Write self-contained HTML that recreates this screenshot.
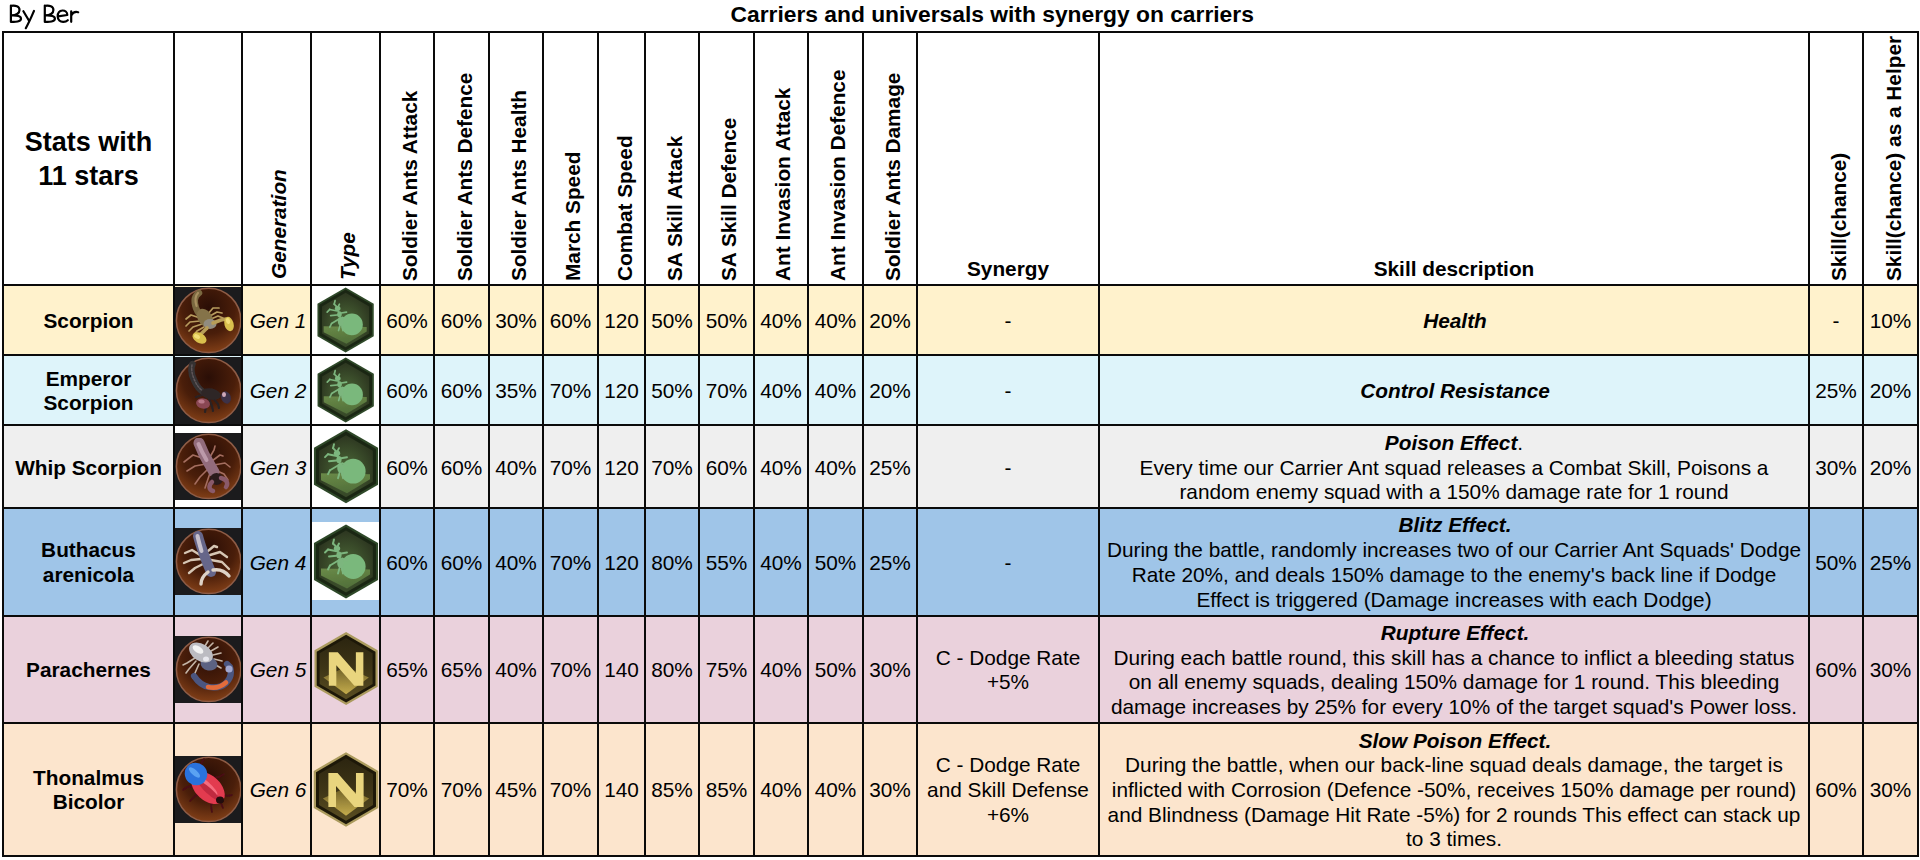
<!DOCTYPE html>
<html><head><meta charset="utf-8"><title>Carriers and universals with synergy on carriers</title>
<style>html,body{margin:0;padding:0;background:#fff;width:1920px;height:860px;overflow:hidden}svg{display:block}text{font-family:"Liberation Sans",sans-serif}</style>
</head><body><svg width="1920" height="860" viewBox="0 0 1920 860">
<defs>
 <radialGradient id="med" cx="50%" cy="30%" r="75%">
  <stop offset="0" stop-color="#2a0e06"/>
  <stop offset="0.55" stop-color="#4a1e0a"/>
  <stop offset="1" stop-color="#8a4419"/>
 </radialGradient>
 <radialGradient id="ghex" cx="50%" cy="58%" r="62%">
  <stop offset="0" stop-color="#4e6c3a"/>
  <stop offset="0.55" stop-color="#3a4c2a"/>
  <stop offset="1" stop-color="#2a321e"/>
 </radialGradient>
 <linearGradient id="gground" x1="0" y1="0" x2="0.3" y2="1">
  <stop offset="0" stop-color="#6a8a48"/>
  <stop offset="1" stop-color="#52703a"/>
 </linearGradient>
 <linearGradient id="nchev" x1="0" y1="0" x2="0" y2="1">
  <stop offset="0" stop-color="#6a5c24"/>
  <stop offset="0.5" stop-color="#9a863a"/>
  <stop offset="1" stop-color="#c4ac4c"/>
 </linearGradient>
 <linearGradient id="nhex" x1="0" y1="0" x2="0" y2="1">
  <stop offset="0" stop-color="#2c2510"/>
  <stop offset="0.5" stop-color="#3e3516"/>
  <stop offset="1" stop-color="#5a4e22"/>
 </linearGradient>
 <filter id="soft" x="-10%" y="-10%" width="120%" height="120%"><feGaussianBlur stdDeviation="0.6"/></filter>
</defs><rect x="3" y="285" width="1916" height="70" fill="#FFF2CC"/><rect x="3" y="355" width="1916" height="70" fill="#DEF4FA"/><rect x="3" y="425" width="1916" height="83" fill="#EFEFEF"/><rect x="3" y="508" width="1916" height="108" fill="#9FC5E8"/><rect x="3" y="616" width="1916" height="107" fill="#EAD1DC"/><rect x="3" y="723" width="1916" height="133" fill="#FCE5CD"/><rect x="174" y="425" width="68" height="83" fill="#ffffff"/><rect x="311" y="285" width="69" height="70" fill="#ffffff"/><rect x="311" y="355" width="69" height="70" fill="#ffffff"/><rect x="311" y="425" width="69" height="83" fill="#ffffff"/><rect x="312" y="522" width="67" height="78" fill="#ffffff"/><g transform="translate(175,287)"><rect x="0" y="0" width="67" height="67" fill="#1b1b1d"/><circle cx="33.6" cy="33.4" r="32.2" fill="url(#med)" stroke="#8e5c46" stroke-width="1.5"/><g filter="url(#soft)"><path d="M25.0,31.0 L16.0,28.0 L11.0,32.0" stroke="#b89c5e" stroke-width="1.7" fill="none" stroke-linecap="round" stroke-linejoin="round"/><path d="M25.0,34.0 L15.0,35.0 L11.0,39.0" stroke="#b89c5e" stroke-width="1.7" fill="none" stroke-linecap="round" stroke-linejoin="round"/><path d="M27.0,37.0 L18.0,40.0 L14.0,44.0" stroke="#b89c5e" stroke-width="1.7" fill="none" stroke-linecap="round" stroke-linejoin="round"/><path d="M29.0,40.0 L22.0,44.0 L19.0,48.0" stroke="#b89c5e" stroke-width="1.7" fill="none" stroke-linecap="round" stroke-linejoin="round"/><path d="M33.0,27.0 L38.0,21.0 L44.0,21.0" stroke="#b89c5e" stroke-width="1.7" fill="none" stroke-linecap="round" stroke-linejoin="round"/><path d="M35.0,29.0 L42.0,25.0 L47.0,26.0" stroke="#b89c5e" stroke-width="1.7" fill="none" stroke-linecap="round" stroke-linejoin="round"/><path d="M36.0,32.0 L43.0,29.0 L48.0,31.0" stroke="#b89c5e" stroke-width="1.7" fill="none" stroke-linecap="round" stroke-linejoin="round"/><path d="M24,6 C19,9 19,15 21,21 C23,27 27,31 33,35" stroke="#7a6840" stroke-width="6.5" fill="none" stroke-linecap="round" stroke-linejoin="round"/><path d="M23,6 C20,9 20,14 21.5,19" stroke="#a89060" stroke-width="2.2" fill="none" stroke-linecap="round" stroke-linejoin="round"/><ellipse cx="30" cy="31" rx="7" ry="10" fill="#857348" transform="rotate(-35 30 31)"/><ellipse cx="35" cy="37" rx="6.5" ry="5" fill="#918c80"/><path d="M38,36 L46,33 L51,32" stroke="#b89e58" stroke-width="3.6" fill="none" stroke-linecap="round" stroke-linejoin="round"/><path d="M32,41 L28,45 L26,47" stroke="#b89e58" stroke-width="3.6" fill="none" stroke-linecap="round" stroke-linejoin="round"/><ellipse cx="54" cy="37" rx="4.6" ry="7.3" fill="#d9c04e" transform="rotate(-15 54 37)"/><ellipse cx="24.5" cy="51" rx="7.6" ry="5" fill="#d9c04e" transform="rotate(30 24.5 51)"/><ellipse cx="22" cy="49.5" rx="3.2" ry="2" fill="#f2de78" transform="rotate(30 22 49.5)"/><ellipse cx="53" cy="34" rx="2" ry="3" fill="#f2de78" transform="rotate(-15 53 34)"/></g></g><g transform="translate(175,357)"><rect x="0" y="0" width="67" height="67" fill="#1b1b1d"/><circle cx="33.6" cy="33.4" r="32.2" fill="url(#med)" stroke="#8e5c46" stroke-width="1.5"/><g filter="url(#soft)"><path d="M30.0,42.0 L31.0,50.0 L30.0,55.0" stroke="#2a2224" stroke-width="2.2" fill="none" stroke-linecap="round" stroke-linejoin="round"/><path d="M34.0,42.0 L37.0,49.0 L38.0,54.0" stroke="#2a2224" stroke-width="2.2" fill="none" stroke-linecap="round" stroke-linejoin="round"/><path d="M38.0,41.0 L43.0,47.0 L44.0,51.0" stroke="#2a2224" stroke-width="2.2" fill="none" stroke-linecap="round" stroke-linejoin="round"/><path d="M27.0,38.0 L21.0,40.0" stroke="#2a2224" stroke-width="2.2" fill="none" stroke-linecap="round" stroke-linejoin="round"/><path d="M17.5,7 C15.5,12 16.5,18 19,23 C21.5,29 24.5,33 29,35.5 L40,38" stroke="#363032" stroke-width="6.5" fill="none" stroke-linecap="round" stroke-linejoin="round"/><path d="M17,8 C16,13 17.5,19 20,24 C22,29 25,32 28,34" stroke="#5e5658" stroke-width="1.5" fill="none" stroke-linecap="round" stroke-linejoin="round" stroke-dasharray="2 1.6"/><ellipse cx="36" cy="37" rx="10" ry="5.5" fill="#2e2628" transform="rotate(12 36 37)"/><ellipse cx="28" cy="46.5" rx="7" ry="5.2" fill="#8a4652" transform="rotate(10 28 46.5)"/><ellipse cx="26.5" cy="44.5" rx="3.2" ry="2" fill="#b87888" transform="rotate(10 26.5 44.5)"/><ellipse cx="51" cy="40.5" rx="4.8" ry="6.3" fill="#3c3046" transform="rotate(-20 51 40.5)"/><ellipse cx="49" cy="37.5" rx="2" ry="2.6" fill="#d0a8b8"/></g></g><g transform="translate(175,433)"><rect x="0" y="0" width="67" height="67" fill="#1b1b1d"/><circle cx="33.6" cy="33.4" r="32.2" fill="url(#med)" stroke="#8e5c46" stroke-width="1.5"/><g filter="url(#soft)"><path d="M30.0,26.0 L18.0,22.0 L9.0,29.0" stroke="#a46d5e" stroke-width="1.6" fill="none" stroke-linecap="round" stroke-linejoin="round"/><path d="M31.0,31.0 L20.0,33.0 L12.0,38.0" stroke="#a46d5e" stroke-width="1.6" fill="none" stroke-linecap="round" stroke-linejoin="round"/><path d="M33.0,36.0 L25.0,44.0 L20.0,51.0" stroke="#a46d5e" stroke-width="1.6" fill="none" stroke-linecap="round" stroke-linejoin="round"/><path d="M35.0,40.0 L32.0,49.0 L30.0,55.0" stroke="#a46d5e" stroke-width="1.6" fill="none" stroke-linecap="round" stroke-linejoin="round"/><path d="M35.0,24.0 L39.0,17.0 L40.0,13.0" stroke="#a46d5e" stroke-width="1.6" fill="none" stroke-linecap="round" stroke-linejoin="round"/><path d="M37.0,28.0 L45.0,22.0 L48.0,23.0" stroke="#a46d5e" stroke-width="1.6" fill="none" stroke-linecap="round" stroke-linejoin="round"/><path d="M39.0,32.0 L50.0,30.0 L55.0,34.0" stroke="#a46d5e" stroke-width="1.6" fill="none" stroke-linecap="round" stroke-linejoin="round"/><path d="M40.0,37.0 L49.0,41.0 L53.0,47.0" stroke="#a46d5e" stroke-width="1.6" fill="none" stroke-linecap="round" stroke-linejoin="round"/><path d="M24,10 C27,18 31,26 35.5,33 L39,39" stroke="#926c7c" stroke-width="11" fill="none" stroke-linecap="round" stroke-linejoin="round"/><path d="M23.5,11 C26,17 28.5,22 31.5,27" stroke="#bc9aaa" stroke-width="4" fill="none" stroke-linecap="round" stroke-linejoin="round"/><ellipse cx="41.5" cy="46" rx="6.5" ry="6" fill="#2a1a1c"/><path d="M37,49 C33,53 34,57 38,58" stroke="#8a5a6a" stroke-width="4.5" fill="none" stroke-linecap="round" stroke-linejoin="round"/><path d="M46,45 C51,46 54,50 51,54" stroke="#8a5a6a" stroke-width="4.5" fill="none" stroke-linecap="round" stroke-linejoin="round"/></g></g><g transform="translate(175,528)"><rect x="0" y="0" width="67" height="67" fill="#1b1b1d"/><circle cx="33.6" cy="33.4" r="32.2" fill="url(#med)" stroke="#8e5c46" stroke-width="1.5"/><g filter="url(#soft)"><path d="M25.0,27.0 L17.0,22.0 L10.0,25.0" stroke="#d6c6b4" stroke-width="2.4" fill="none" stroke-linecap="round" stroke-linejoin="round"/><path d="M26.0,31.0 L16.0,32.0 L9.0,35.0" stroke="#d6c6b4" stroke-width="2.4" fill="none" stroke-linecap="round" stroke-linejoin="round"/><path d="M28.0,36.0 L20.0,40.0 L14.0,45.0" stroke="#d6c6b4" stroke-width="2.4" fill="none" stroke-linecap="round" stroke-linejoin="round"/><path d="M33.0,23.0 L39.0,18.0 L42.0,19.0" stroke="#d6c6b4" stroke-width="2.4" fill="none" stroke-linecap="round" stroke-linejoin="round"/><path d="M35.0,27.0 L45.0,24.0 L52.0,29.0" stroke="#d6c6b4" stroke-width="2.4" fill="none" stroke-linecap="round" stroke-linejoin="round"/><path d="M36.0,32.0 L47.0,34.0 L54.0,41.0" stroke="#d6c6b4" stroke-width="2.4" fill="none" stroke-linecap="round" stroke-linejoin="round"/><path d="M23,8 C25,16 28,24 31,32 L36,44" stroke="#66668a" stroke-width="10" fill="none" stroke-linecap="round" stroke-linejoin="round"/><path d="M22.5,8 C23.5,13 25,18 26.5,23" stroke="#c6c0cc" stroke-width="4" fill="none" stroke-linecap="round" stroke-linejoin="round"/><path d="M33,44 C29,47 26,51 26,56" stroke="#ded2c6" stroke-width="3.4" fill="none" stroke-linecap="round" stroke-linejoin="round"/><path d="M38,42 C44,41 50,43 54,48" stroke="#ded2c6" stroke-width="3.4" fill="none" stroke-linecap="round" stroke-linejoin="round"/></g></g><g transform="translate(175,636)"><rect x="0" y="0" width="67" height="67" fill="#1b1b1d"/><circle cx="33.6" cy="33.4" r="32.2" fill="url(#med)" stroke="#8e5c46" stroke-width="1.5"/><g filter="url(#soft)"><path d="M20.0,22.0 L12.0,27.0 L8.0,29.0" stroke="#c4b4a6" stroke-width="1.6" fill="none" stroke-linecap="round" stroke-linejoin="round"/><path d="M21.0,25.0 L14.0,33.0 L11.0,37.0" stroke="#c4b4a6" stroke-width="1.6" fill="none" stroke-linecap="round" stroke-linejoin="round"/><path d="M24.0,28.0 L20.0,37.0 L18.0,42.0" stroke="#c4b4a6" stroke-width="1.6" fill="none" stroke-linecap="round" stroke-linejoin="round"/><path d="M30.0,10.0 L33.0,5.0" stroke="#c4b4a6" stroke-width="1.6" fill="none" stroke-linecap="round" stroke-linejoin="round"/><path d="M33.0,12.0 L38.0,7.0" stroke="#c4b4a6" stroke-width="1.6" fill="none" stroke-linecap="round" stroke-linejoin="round"/><path d="M36.0,15.0 L43.0,11.0" stroke="#c4b4a6" stroke-width="1.6" fill="none" stroke-linecap="round" stroke-linejoin="round"/><path d="M38.0,19.0 L46.0,17.0" stroke="#c4b4a6" stroke-width="1.6" fill="none" stroke-linecap="round" stroke-linejoin="round"/><path d="M39.0,23.0 L47.0,25.0" stroke="#c4b4a6" stroke-width="1.6" fill="none" stroke-linecap="round" stroke-linejoin="round"/><path d="M39.0,28.0 L46.0,32.0" stroke="#c4b4a6" stroke-width="1.6" fill="none" stroke-linecap="round" stroke-linejoin="round"/><path d="M19,40 C23,46 28,50 34,51 C40,52 47,51 51,47 C55,43 57,37 55,31 L52,28" stroke="#4c5680" stroke-width="6.2" fill="none" stroke-linecap="round" stroke-linejoin="round"/><path d="M33,51 C39,52.5 46,51 51,46.5" stroke="#e36c3a" stroke-width="4.6" fill="none" stroke-linecap="round" stroke-linejoin="round"/><ellipse cx="34" cy="28" rx="8.5" ry="6.5" fill="#5c6282" transform="rotate(10 34 28)"/><ellipse cx="26" cy="16.5" rx="13" ry="8.5" fill="#bcbcc2" transform="rotate(32 26 16.5)"/><ellipse cx="23" cy="13.5" rx="6" ry="3.2" fill="#f2f2f2" transform="rotate(32 23 13.5)"/><ellipse cx="31" cy="23" rx="3" ry="2.5" fill="#e8e8ee"/><ellipse cx="54" cy="33" rx="3.6" ry="3.6" fill="#a2a8d0"/></g></g><g transform="translate(175,756)"><rect x="0" y="0" width="67" height="67" fill="#1b1b1d"/><circle cx="33.6" cy="33.4" r="32.2" fill="url(#med)" stroke="#8e5c46" stroke-width="1.5"/><g filter="url(#soft)"><path d="M38.0,42.0 L36.0,50.0 L37.0,56.0" stroke="#4a0c14" stroke-width="1.8" fill="none" stroke-linecap="round" stroke-linejoin="round"/><path d="M42.0,40.0 L46.0,47.0 L48.0,52.0" stroke="#4a0c14" stroke-width="1.8" fill="none" stroke-linecap="round" stroke-linejoin="round"/><path d="M44.0,36.0 L52.0,40.0 L57.0,39.0" stroke="#4a0c14" stroke-width="1.8" fill="none" stroke-linecap="round" stroke-linejoin="round"/><path d="M26.0,36.0 L19.0,41.0 L15.0,45.0" stroke="#4a0c14" stroke-width="1.8" fill="none" stroke-linecap="round" stroke-linejoin="round"/><path d="M20.0,30.0 L12.0,31.0 L8.0,34.0" stroke="#4a0c14" stroke-width="1.8" fill="none" stroke-linecap="round" stroke-linejoin="round"/><path d="M36.0,22.0 L44.0,21.0 L49.0,18.0" stroke="#4a0c14" stroke-width="1.8" fill="none" stroke-linecap="round" stroke-linejoin="round"/><path d="M24.0,12.0 L27.0,6.0 L29.0,3.0" stroke="#4a0c14" stroke-width="1.8" fill="none" stroke-linecap="round" stroke-linejoin="round"/><path d="M15.0,18.0 L10.0,14.0" stroke="#4a0c14" stroke-width="1.8" fill="none" stroke-linecap="round" stroke-linejoin="round"/><ellipse cx="33" cy="32" rx="19.5" ry="12.5" fill="#e23a4f" transform="rotate(42 33 32)"/><ellipse cx="31" cy="29" rx="15" ry="3.8" fill="#f66c7e" transform="rotate(42 31 29)"/><ellipse cx="34" cy="35" rx="14" ry="3" fill="#c02a40" transform="rotate(42 34 35)"/><ellipse cx="21" cy="18" rx="11.5" ry="11" fill="#2a72dc" transform="rotate(42 21 18)"/><ellipse cx="19.5" cy="16.5" rx="7" ry="2.8" fill="#5aa2f2" transform="rotate(42 19.5 16.5)"/><ellipse cx="45" cy="44" rx="4" ry="3.5" fill="#200808"/></g></g><polygon points="345.60,287.50 373.75,303.75 373.75,336.25 345.60,352.50 317.45,336.25 317.45,303.75" fill="#2e4828"/><polygon points="345.60,289.61 371.92,304.80 371.92,335.20 345.60,350.39 319.28,335.20 319.28,304.80" fill="#1a2613"/><polygon points="345.60,292.77 369.18,306.39 369.18,333.61 345.60,347.23 322.02,333.61 322.02,306.39" fill="url(#ghex)"/><polygon points="323.64,326.15 366.68,327.03 366.68,331.42 346.48,343.72 323.64,332.30" fill="url(#gground)" filter="url(#soft)"/><g filter="url(#soft)"><circle cx="351.92" cy="324.39" r="10.89" fill="#7ab87c"/><line x1="337.69" y1="307.70" x2="334.18" y2="304.19" stroke="#7cb67e" stroke-width="1.67" stroke-linecap="round"/><line x1="334.18" y1="304.19" x2="335.06" y2="300.68" stroke="#7cb67e" stroke-width="1.67" stroke-linecap="round"/><line x1="337.69" y1="307.70" x2="339.45" y2="304.19" stroke="#7cb67e" stroke-width="1.67" stroke-linecap="round"/><line x1="338.57" y1="311.22" x2="329.79" y2="309.46" stroke="#7cb67e" stroke-width="1.67" stroke-linecap="round"/><line x1="329.79" y1="309.46" x2="327.15" y2="312.09" stroke="#7cb67e" stroke-width="1.67" stroke-linecap="round"/><line x1="339.45" y1="314.73" x2="330.67" y2="315.61" stroke="#7cb67e" stroke-width="1.67" stroke-linecap="round"/><line x1="340.33" y1="318.24" x2="331.55" y2="323.51" stroke="#7cb67e" stroke-width="1.67" stroke-linecap="round"/><line x1="331.55" y1="323.51" x2="329.79" y2="327.03" stroke="#7cb67e" stroke-width="1.67" stroke-linecap="round"/><line x1="341.21" y1="312.97" x2="346.48" y2="312.09" stroke="#7cb67e" stroke-width="1.67" stroke-linecap="round"/><line x1="342.09" y1="317.36" x2="346.48" y2="319.12" stroke="#7cb67e" stroke-width="1.67" stroke-linecap="round"/><line x1="340.33" y1="324.39" x2="338.57" y2="330.54" stroke="#7cb67e" stroke-width="1.67" stroke-linecap="round"/><line x1="342.09" y1="325.27" x2="342.96" y2="330.54" stroke="#7cb67e" stroke-width="1.67" stroke-linecap="round"/><ellipse cx="337.69" cy="308.58" rx="2.81" ry="2.46" fill="#7cb67e"/><ellipse cx="339.45" cy="314.29" rx="2.28" ry="3.16" fill="#7cb67e"/><ellipse cx="340.68" cy="321.32" rx="2.81" ry="4.39" fill="#7cb67e"/></g><polygon points="345.70,357.50 373.85,373.75 373.85,406.25 345.70,422.50 317.55,406.25 317.55,373.75" fill="#2e4828"/><polygon points="345.70,359.61 372.02,374.80 372.02,405.20 345.70,420.39 319.38,405.20 319.38,374.80" fill="#1a2613"/><polygon points="345.70,362.77 369.28,376.39 369.28,403.61 345.70,417.23 322.12,403.61 322.12,376.39" fill="url(#ghex)"/><polygon points="323.74,396.15 366.78,397.03 366.78,401.42 346.58,413.72 323.74,402.30" fill="url(#gground)" filter="url(#soft)"/><g filter="url(#soft)"><circle cx="352.02" cy="394.39" r="10.89" fill="#7ab87c"/><line x1="337.79" y1="377.70" x2="334.28" y2="374.19" stroke="#7cb67e" stroke-width="1.67" stroke-linecap="round"/><line x1="334.28" y1="374.19" x2="335.16" y2="370.68" stroke="#7cb67e" stroke-width="1.67" stroke-linecap="round"/><line x1="337.79" y1="377.70" x2="339.55" y2="374.19" stroke="#7cb67e" stroke-width="1.67" stroke-linecap="round"/><line x1="338.67" y1="381.22" x2="329.89" y2="379.46" stroke="#7cb67e" stroke-width="1.67" stroke-linecap="round"/><line x1="329.89" y1="379.46" x2="327.25" y2="382.09" stroke="#7cb67e" stroke-width="1.67" stroke-linecap="round"/><line x1="339.55" y1="384.73" x2="330.77" y2="385.61" stroke="#7cb67e" stroke-width="1.67" stroke-linecap="round"/><line x1="340.43" y1="388.24" x2="331.65" y2="393.51" stroke="#7cb67e" stroke-width="1.67" stroke-linecap="round"/><line x1="331.65" y1="393.51" x2="329.89" y2="397.03" stroke="#7cb67e" stroke-width="1.67" stroke-linecap="round"/><line x1="341.31" y1="382.97" x2="346.58" y2="382.09" stroke="#7cb67e" stroke-width="1.67" stroke-linecap="round"/><line x1="342.19" y1="387.36" x2="346.58" y2="389.12" stroke="#7cb67e" stroke-width="1.67" stroke-linecap="round"/><line x1="340.43" y1="394.39" x2="338.67" y2="400.54" stroke="#7cb67e" stroke-width="1.67" stroke-linecap="round"/><line x1="342.19" y1="395.27" x2="343.06" y2="400.54" stroke="#7cb67e" stroke-width="1.67" stroke-linecap="round"/><ellipse cx="337.79" cy="378.58" rx="2.81" ry="2.46" fill="#7cb67e"/><ellipse cx="339.55" cy="384.29" rx="2.28" ry="3.16" fill="#7cb67e"/><ellipse cx="340.78" cy="391.32" rx="2.81" ry="4.39" fill="#7cb67e"/></g><polygon points="346.00,429.20 378.04,447.70 378.04,484.70 346.00,503.20 313.96,484.70 313.96,447.70" fill="#2e4828"/><polygon points="346.00,431.60 375.96,448.90 375.96,483.50 346.00,500.80 316.04,483.50 316.04,448.90" fill="#1a2613"/><polygon points="346.00,435.20 372.85,450.70 372.85,481.70 346.00,497.20 319.15,481.70 319.15,450.70" fill="url(#ghex)"/><polygon points="321.00,473.20 370.00,474.20 370.00,479.20 347.00,493.20 321.00,480.20" fill="url(#gground)" filter="url(#soft)"/><g filter="url(#soft)"><circle cx="353.20" cy="471.20" r="12.40" fill="#7ab87c"/><line x1="337.00" y1="452.20" x2="333.00" y2="448.20" stroke="#7cb67e" stroke-width="1.90" stroke-linecap="round"/><line x1="333.00" y1="448.20" x2="334.00" y2="444.20" stroke="#7cb67e" stroke-width="1.90" stroke-linecap="round"/><line x1="337.00" y1="452.20" x2="339.00" y2="448.20" stroke="#7cb67e" stroke-width="1.90" stroke-linecap="round"/><line x1="338.00" y1="456.20" x2="328.00" y2="454.20" stroke="#7cb67e" stroke-width="1.90" stroke-linecap="round"/><line x1="328.00" y1="454.20" x2="325.00" y2="457.20" stroke="#7cb67e" stroke-width="1.90" stroke-linecap="round"/><line x1="339.00" y1="460.20" x2="329.00" y2="461.20" stroke="#7cb67e" stroke-width="1.90" stroke-linecap="round"/><line x1="340.00" y1="464.20" x2="330.00" y2="470.20" stroke="#7cb67e" stroke-width="1.90" stroke-linecap="round"/><line x1="330.00" y1="470.20" x2="328.00" y2="474.20" stroke="#7cb67e" stroke-width="1.90" stroke-linecap="round"/><line x1="341.00" y1="458.20" x2="347.00" y2="457.20" stroke="#7cb67e" stroke-width="1.90" stroke-linecap="round"/><line x1="342.00" y1="463.20" x2="347.00" y2="465.20" stroke="#7cb67e" stroke-width="1.90" stroke-linecap="round"/><line x1="340.00" y1="471.20" x2="338.00" y2="478.20" stroke="#7cb67e" stroke-width="1.90" stroke-linecap="round"/><line x1="342.00" y1="472.20" x2="343.00" y2="478.20" stroke="#7cb67e" stroke-width="1.90" stroke-linecap="round"/><ellipse cx="337.00" cy="453.20" rx="3.20" ry="2.80" fill="#7cb67e"/><ellipse cx="339.00" cy="459.70" rx="2.60" ry="3.60" fill="#7cb67e"/><ellipse cx="340.40" cy="467.70" rx="3.20" ry="5.00" fill="#7cb67e"/></g><polygon points="346.00,524.50 378.04,543.00 378.04,580.00 346.00,598.50 313.96,580.00 313.96,543.00" fill="#2e4828"/><polygon points="346.00,526.90 375.96,544.20 375.96,578.80 346.00,596.10 316.04,578.80 316.04,544.20" fill="#1a2613"/><polygon points="346.00,530.50 372.85,546.00 372.85,577.00 346.00,592.50 319.15,577.00 319.15,546.00" fill="url(#ghex)"/><polygon points="321.00,568.50 370.00,569.50 370.00,574.50 347.00,588.50 321.00,575.50" fill="url(#gground)" filter="url(#soft)"/><g filter="url(#soft)"><circle cx="353.20" cy="566.50" r="12.40" fill="#7ab87c"/><line x1="337.00" y1="547.50" x2="333.00" y2="543.50" stroke="#7cb67e" stroke-width="1.90" stroke-linecap="round"/><line x1="333.00" y1="543.50" x2="334.00" y2="539.50" stroke="#7cb67e" stroke-width="1.90" stroke-linecap="round"/><line x1="337.00" y1="547.50" x2="339.00" y2="543.50" stroke="#7cb67e" stroke-width="1.90" stroke-linecap="round"/><line x1="338.00" y1="551.50" x2="328.00" y2="549.50" stroke="#7cb67e" stroke-width="1.90" stroke-linecap="round"/><line x1="328.00" y1="549.50" x2="325.00" y2="552.50" stroke="#7cb67e" stroke-width="1.90" stroke-linecap="round"/><line x1="339.00" y1="555.50" x2="329.00" y2="556.50" stroke="#7cb67e" stroke-width="1.90" stroke-linecap="round"/><line x1="340.00" y1="559.50" x2="330.00" y2="565.50" stroke="#7cb67e" stroke-width="1.90" stroke-linecap="round"/><line x1="330.00" y1="565.50" x2="328.00" y2="569.50" stroke="#7cb67e" stroke-width="1.90" stroke-linecap="round"/><line x1="341.00" y1="553.50" x2="347.00" y2="552.50" stroke="#7cb67e" stroke-width="1.90" stroke-linecap="round"/><line x1="342.00" y1="558.50" x2="347.00" y2="560.50" stroke="#7cb67e" stroke-width="1.90" stroke-linecap="round"/><line x1="340.00" y1="566.50" x2="338.00" y2="573.50" stroke="#7cb67e" stroke-width="1.90" stroke-linecap="round"/><line x1="342.00" y1="567.50" x2="343.00" y2="573.50" stroke="#7cb67e" stroke-width="1.90" stroke-linecap="round"/><ellipse cx="337.00" cy="548.50" rx="3.20" ry="2.80" fill="#7cb67e"/><ellipse cx="339.00" cy="555.00" rx="2.60" ry="3.60" fill="#7cb67e"/><ellipse cx="340.40" cy="563.00" rx="3.20" ry="5.00" fill="#7cb67e"/></g><polygon points="346.10,632.10 377.71,650.35 377.71,686.85 346.10,705.10 314.49,686.85 314.49,650.35" fill="#ab9b5e"/><polygon points="346.10,634.66 375.49,651.63 375.49,685.57 346.10,702.54 316.71,685.57 316.71,651.63" fill="#1d1808"/><polygon points="346.10,638.02 372.58,653.31 372.58,683.89 346.10,699.18 319.62,683.89 319.62,653.31" fill="url(#nhex)"/><polygon points="323.41,677.48 346.10,666.63 368.79,677.48 346.10,694.25" fill="url(#nchev)" filter="url(#soft)"/><path d="M328.84,685.86 L328.84,652.32 L337.81,652.32 L355.87,673.04 L355.87,652.32 L363.36,652.32 L363.36,685.86 L354.39,685.86 L336.33,665.15 L336.33,685.86 Z" fill="#e9d57e"/><polygon points="346.00,752.25 378.26,770.88 378.26,808.12 346.00,826.75 313.74,808.12 313.74,770.88" fill="#ab9b5e"/><polygon points="346.00,754.87 375.99,772.18 375.99,806.82 346.00,824.13 316.01,806.82 316.01,772.18" fill="#1d1808"/><polygon points="346.00,758.29 373.03,773.90 373.03,805.10 346.00,820.71 318.97,805.10 318.97,773.90" fill="url(#nhex)"/><polygon points="322.84,798.56 346.00,787.49 369.16,798.56 346.00,815.68" fill="url(#nchev)" filter="url(#soft)"/><path d="M328.38,807.12 L328.38,772.89 L337.54,772.89 L355.97,794.03 L355.97,772.89 L363.62,772.89 L363.62,807.12 L354.46,807.12 L336.03,785.98 L336.03,807.12 Z" fill="#e9d57e"/><rect x="2" y="31" width="2" height="826" fill="#0a0a0a"/><rect x="173" y="31" width="2" height="826" fill="#0a0a0a"/><rect x="241" y="31" width="2" height="826" fill="#0a0a0a"/><rect x="310" y="31" width="2" height="826" fill="#0a0a0a"/><rect x="379" y="31" width="2" height="826" fill="#0a0a0a"/><rect x="433" y="31" width="2" height="826" fill="#0a0a0a"/><rect x="488" y="31" width="2" height="826" fill="#0a0a0a"/><rect x="542" y="31" width="2" height="826" fill="#0a0a0a"/><rect x="597" y="31" width="2" height="826" fill="#0a0a0a"/><rect x="644" y="31" width="2" height="826" fill="#0a0a0a"/><rect x="698" y="31" width="2" height="826" fill="#0a0a0a"/><rect x="753" y="31" width="2" height="826" fill="#0a0a0a"/><rect x="807" y="31" width="2" height="826" fill="#0a0a0a"/><rect x="862" y="31" width="2" height="826" fill="#0a0a0a"/><rect x="916" y="31" width="2" height="826" fill="#0a0a0a"/><rect x="1098" y="31" width="2" height="826" fill="#0a0a0a"/><rect x="1808" y="31" width="2" height="826" fill="#0a0a0a"/><rect x="1862" y="31" width="2" height="826" fill="#0a0a0a"/><rect x="1917" y="31" width="2" height="826" fill="#0a0a0a"/><rect x="2" y="31" width="1917" height="2" fill="#0a0a0a"/><rect x="2" y="284" width="1917" height="2" fill="#0a0a0a"/><rect x="2" y="354" width="1917" height="2" fill="#0a0a0a"/><rect x="2" y="424" width="1917" height="2" fill="#0a0a0a"/><rect x="2" y="507" width="1917" height="2" fill="#0a0a0a"/><rect x="2" y="615" width="1917" height="2" fill="#0a0a0a"/><rect x="2" y="722" width="1917" height="2" fill="#0a0a0a"/><rect x="2" y="855" width="1917" height="2" fill="#0a0a0a"/><g font-family="'Liberation Sans', sans-serif" fill="#000"><g fill="none" stroke="#000" stroke-width="2.2" stroke-linecap="round" stroke-linejoin="round"><path d="M10.9,5.6 L10.9,21.8 M10.9,5.8 C15.5,5 19.6,6.2 19.5,10 C19.4,13.4 15.5,15.2 11.2,15.4 C17.5,15 21.2,16.4 21,18.9 C20.8,21.6 15.5,22.3 10.9,21.8"/><path d="M23.4,11.2 L28.9,20.5 M34,10.9 C31.2,17.5 28.4,23.5 25.8,28.2"/><path d="M44.8,5.6 L44.8,21.8 M44.8,5.8 C49.4,5 53.5,6.2 53.4,10 C53.3,13.4 49.4,15.2 45.1,15.4 C51.4,15 55.1,16.4 54.9,18.9 C54.7,21.6 49.4,22.3 44.8,21.8"/><path d="M58,16.3 L67.3,15 C67.4,11.8 64.8,10.4 62.5,10.5 C59.3,10.7 57.7,13.3 57.7,16.4 C57.7,19.8 60.2,22 63.3,21.9 C65.2,21.8 66.7,21.2 67.8,20.2"/><path d="M71.2,11.3 L71.2,21.8 M71.4,15.2 C72.6,12.6 75,11.5 78.2,12.2"/></g><text x="992.20" y="22.20" font-size="22.8" font-weight="700" font-style="normal" text-anchor="middle">Carriers and universals with synergy on carriers</text><text x="88.50" y="151.40" font-size="27" font-weight="700" font-style="normal" text-anchor="middle">Stats with</text><text x="88.50" y="184.50" font-size="27" font-weight="700" font-style="normal" text-anchor="middle">11 stars</text><text transform="translate(286.40,279) rotate(-90)" x="0" y="0" font-size="20.8" font-weight="700" font-style="italic" text-anchor="start">Generation</text><text transform="translate(354.70,280) rotate(-90)" x="0" y="0" font-size="20.8" font-weight="700" font-style="italic" text-anchor="start">Type</text><text transform="translate(416.60,281) rotate(-90)" x="0" y="0" font-size="20.8" font-weight="700" font-style="normal" text-anchor="start">Soldier Ants Attack</text><text transform="translate(471.60,281) rotate(-90)" x="0" y="0" font-size="20.8" font-weight="700" font-style="normal" text-anchor="start">Soldier Ants Defence</text><text transform="translate(525.95,281) rotate(-90)" x="0" y="0" font-size="20.8" font-weight="700" font-style="normal" text-anchor="start">Soldier Ants Health</text><text transform="translate(580.30,281) rotate(-90)" x="0" y="0" font-size="20.8" font-weight="700" font-style="normal" text-anchor="start">March Speed</text><text transform="translate(631.60,281) rotate(-90)" x="0" y="0" font-size="20.8" font-weight="700" font-style="normal" text-anchor="start">Combat Speed</text><text transform="translate(681.60,281) rotate(-90)" x="0" y="0" font-size="20.8" font-weight="700" font-style="normal" text-anchor="start">SA Skill Attack</text><text transform="translate(735.95,281) rotate(-90)" x="0" y="0" font-size="20.8" font-weight="700" font-style="normal" text-anchor="start">SA Skill Defence</text><text transform="translate(790.30,281) rotate(-90)" x="0" y="0" font-size="20.8" font-weight="700" font-style="normal" text-anchor="start">Ant Invasion Attack</text><text transform="translate(845.30,281) rotate(-90)" x="0" y="0" font-size="20.8" font-weight="700" font-style="normal" text-anchor="start">Ant Invasion Defence</text><text transform="translate(900.30,281) rotate(-90)" x="0" y="0" font-size="20.8" font-weight="700" font-style="normal" text-anchor="start">Soldier Ants Damage</text><text transform="translate(1845.70,281) rotate(-90)" x="0" y="0" font-size="20.8" font-weight="700" font-style="normal" text-anchor="start">Skill(chance)</text><text transform="translate(1900.70,281) rotate(-90)" x="0" y="0" font-size="20.8" font-weight="700" font-style="normal" text-anchor="start">Skill(chance) as a Helper</text><text x="1008.00" y="275.90" font-size="20.8" font-weight="700" font-style="normal" text-anchor="middle">Synergy</text><text x="1454.00" y="275.90" font-size="20.8" font-weight="700" font-style="normal" text-anchor="middle">Skill description</text><text x="88.50" y="328.10" font-size="20.8" font-weight="700" font-style="normal" text-anchor="middle">Scorpion</text><text x="278.00" y="328.10" font-size="20.8" font-weight="400" font-style="italic" text-anchor="middle">Gen 1</text><text x="407.00" y="328.10" font-size="20.8" font-weight="400" font-style="normal" text-anchor="middle">60%</text><text x="461.50" y="328.10" font-size="20.8" font-weight="400" font-style="normal" text-anchor="middle">60%</text><text x="516.00" y="328.10" font-size="20.8" font-weight="400" font-style="normal" text-anchor="middle">30%</text><text x="570.50" y="328.10" font-size="20.8" font-weight="400" font-style="normal" text-anchor="middle">60%</text><text x="621.50" y="328.10" font-size="20.8" font-weight="400" font-style="normal" text-anchor="middle">120</text><text x="672.00" y="328.10" font-size="20.8" font-weight="400" font-style="normal" text-anchor="middle">50%</text><text x="726.50" y="328.10" font-size="20.8" font-weight="400" font-style="normal" text-anchor="middle">50%</text><text x="781.00" y="328.10" font-size="20.8" font-weight="400" font-style="normal" text-anchor="middle">40%</text><text x="835.50" y="328.10" font-size="20.8" font-weight="400" font-style="normal" text-anchor="middle">40%</text><text x="890.00" y="328.10" font-size="20.8" font-weight="400" font-style="normal" text-anchor="middle">20%</text><text x="1008.00" y="328.10" font-size="20.8" font-weight="400" font-style="normal" text-anchor="middle">-</text><text x="1455.00" y="328.10" font-size="20.8" font-weight="700" font-style="italic" text-anchor="middle">Health</text><text x="1836.00" y="328.10" font-size="20.8" font-weight="400" font-style="normal" text-anchor="middle">-</text><text x="1890.50" y="328.10" font-size="20.8" font-weight="400" font-style="normal" text-anchor="middle">10%</text><text x="88.50" y="385.75" font-size="20.8" font-weight="700" font-style="normal" text-anchor="middle">Emperor</text><text x="88.50" y="410.45" font-size="20.8" font-weight="700" font-style="normal" text-anchor="middle">Scorpion</text><text x="278.00" y="398.10" font-size="20.8" font-weight="400" font-style="italic" text-anchor="middle">Gen 2</text><text x="407.00" y="398.10" font-size="20.8" font-weight="400" font-style="normal" text-anchor="middle">60%</text><text x="461.50" y="398.10" font-size="20.8" font-weight="400" font-style="normal" text-anchor="middle">60%</text><text x="516.00" y="398.10" font-size="20.8" font-weight="400" font-style="normal" text-anchor="middle">35%</text><text x="570.50" y="398.10" font-size="20.8" font-weight="400" font-style="normal" text-anchor="middle">70%</text><text x="621.50" y="398.10" font-size="20.8" font-weight="400" font-style="normal" text-anchor="middle">120</text><text x="672.00" y="398.10" font-size="20.8" font-weight="400" font-style="normal" text-anchor="middle">50%</text><text x="726.50" y="398.10" font-size="20.8" font-weight="400" font-style="normal" text-anchor="middle">70%</text><text x="781.00" y="398.10" font-size="20.8" font-weight="400" font-style="normal" text-anchor="middle">40%</text><text x="835.50" y="398.10" font-size="20.8" font-weight="400" font-style="normal" text-anchor="middle">40%</text><text x="890.00" y="398.10" font-size="20.8" font-weight="400" font-style="normal" text-anchor="middle">20%</text><text x="1008.00" y="398.10" font-size="20.8" font-weight="400" font-style="normal" text-anchor="middle">-</text><text x="1455.00" y="398.10" font-size="20.8" font-weight="700" font-style="italic" text-anchor="middle">Control Resistance</text><text x="1836.00" y="398.10" font-size="20.8" font-weight="400" font-style="normal" text-anchor="middle">25%</text><text x="1890.50" y="398.10" font-size="20.8" font-weight="400" font-style="normal" text-anchor="middle">20%</text><text x="88.50" y="474.60" font-size="20.8" font-weight="700" font-style="normal" text-anchor="middle">Whip Scorpion</text><text x="278.00" y="474.60" font-size="20.8" font-weight="400" font-style="italic" text-anchor="middle">Gen 3</text><text x="407.00" y="474.60" font-size="20.8" font-weight="400" font-style="normal" text-anchor="middle">60%</text><text x="461.50" y="474.60" font-size="20.8" font-weight="400" font-style="normal" text-anchor="middle">60%</text><text x="516.00" y="474.60" font-size="20.8" font-weight="400" font-style="normal" text-anchor="middle">40%</text><text x="570.50" y="474.60" font-size="20.8" font-weight="400" font-style="normal" text-anchor="middle">70%</text><text x="621.50" y="474.60" font-size="20.8" font-weight="400" font-style="normal" text-anchor="middle">120</text><text x="672.00" y="474.60" font-size="20.8" font-weight="400" font-style="normal" text-anchor="middle">70%</text><text x="726.50" y="474.60" font-size="20.8" font-weight="400" font-style="normal" text-anchor="middle">60%</text><text x="781.00" y="474.60" font-size="20.8" font-weight="400" font-style="normal" text-anchor="middle">40%</text><text x="835.50" y="474.60" font-size="20.8" font-weight="400" font-style="normal" text-anchor="middle">40%</text><text x="890.00" y="474.60" font-size="20.8" font-weight="400" font-style="normal" text-anchor="middle">25%</text><text x="1008.00" y="474.60" font-size="20.8" font-weight="400" font-style="normal" text-anchor="middle">-</text><text x="1454.00" y="449.90" font-size="20.8" font-weight="400" font-style="normal" text-anchor="middle"><tspan font-weight="700" font-style="italic">Poison Effect</tspan>.</text><text x="1454.00" y="474.60" font-size="20.8" font-weight="400" font-style="normal" text-anchor="middle">Every time our Carrier Ant squad releases a Combat Skill, Poisons a</text><text x="1454.00" y="499.30" font-size="20.8" font-weight="400" font-style="normal" text-anchor="middle">random enemy squad with a 150% damage rate for 1 round</text><text x="1836.00" y="474.60" font-size="20.8" font-weight="400" font-style="normal" text-anchor="middle">30%</text><text x="1890.50" y="474.60" font-size="20.8" font-weight="400" font-style="normal" text-anchor="middle">20%</text><text x="88.50" y="557.15" font-size="20.8" font-weight="700" font-style="normal" text-anchor="middle">Buthacus</text><text x="88.50" y="581.85" font-size="20.8" font-weight="700" font-style="normal" text-anchor="middle">arenicola</text><text x="278.00" y="569.50" font-size="20.8" font-weight="400" font-style="italic" text-anchor="middle">Gen 4</text><text x="407.00" y="569.50" font-size="20.8" font-weight="400" font-style="normal" text-anchor="middle">60%</text><text x="461.50" y="569.50" font-size="20.8" font-weight="400" font-style="normal" text-anchor="middle">60%</text><text x="516.00" y="569.50" font-size="20.8" font-weight="400" font-style="normal" text-anchor="middle">40%</text><text x="570.50" y="569.50" font-size="20.8" font-weight="400" font-style="normal" text-anchor="middle">70%</text><text x="621.50" y="569.50" font-size="20.8" font-weight="400" font-style="normal" text-anchor="middle">120</text><text x="672.00" y="569.50" font-size="20.8" font-weight="400" font-style="normal" text-anchor="middle">80%</text><text x="726.50" y="569.50" font-size="20.8" font-weight="400" font-style="normal" text-anchor="middle">55%</text><text x="781.00" y="569.50" font-size="20.8" font-weight="400" font-style="normal" text-anchor="middle">40%</text><text x="835.50" y="569.50" font-size="20.8" font-weight="400" font-style="normal" text-anchor="middle">50%</text><text x="890.00" y="569.50" font-size="20.8" font-weight="400" font-style="normal" text-anchor="middle">25%</text><text x="1008.00" y="569.50" font-size="20.8" font-weight="400" font-style="normal" text-anchor="middle">-</text><text x="1455.00" y="532.45" font-size="20.8" font-weight="700" font-style="italic" text-anchor="middle">Blitz Effect.</text><text x="1454.00" y="557.15" font-size="20.8" font-weight="400" font-style="normal" text-anchor="middle">During the battle, randomly increases two of our Carrier Ant Squads' Dodge</text><text x="1454.00" y="581.85" font-size="20.8" font-weight="400" font-style="normal" text-anchor="middle">Rate 20%, and deals 150% damage to the enemy's back line if Dodge</text><text x="1454.00" y="606.55" font-size="20.8" font-weight="400" font-style="normal" text-anchor="middle">Effect is triggered (Damage increases with each Dodge)</text><text x="1836.00" y="569.50" font-size="20.8" font-weight="400" font-style="normal" text-anchor="middle">50%</text><text x="1890.50" y="569.50" font-size="20.8" font-weight="400" font-style="normal" text-anchor="middle">25%</text><text x="88.50" y="677.00" font-size="20.8" font-weight="700" font-style="normal" text-anchor="middle">Parachernes</text><text x="278.00" y="677.00" font-size="20.8" font-weight="400" font-style="italic" text-anchor="middle">Gen 5</text><text x="407.00" y="677.00" font-size="20.8" font-weight="400" font-style="normal" text-anchor="middle">65%</text><text x="461.50" y="677.00" font-size="20.8" font-weight="400" font-style="normal" text-anchor="middle">65%</text><text x="516.00" y="677.00" font-size="20.8" font-weight="400" font-style="normal" text-anchor="middle">40%</text><text x="570.50" y="677.00" font-size="20.8" font-weight="400" font-style="normal" text-anchor="middle">70%</text><text x="621.50" y="677.00" font-size="20.8" font-weight="400" font-style="normal" text-anchor="middle">140</text><text x="672.00" y="677.00" font-size="20.8" font-weight="400" font-style="normal" text-anchor="middle">80%</text><text x="726.50" y="677.00" font-size="20.8" font-weight="400" font-style="normal" text-anchor="middle">75%</text><text x="781.00" y="677.00" font-size="20.8" font-weight="400" font-style="normal" text-anchor="middle">40%</text><text x="835.50" y="677.00" font-size="20.8" font-weight="400" font-style="normal" text-anchor="middle">50%</text><text x="890.00" y="677.00" font-size="20.8" font-weight="400" font-style="normal" text-anchor="middle">30%</text><text x="1008.00" y="664.65" font-size="20.8" font-weight="400" font-style="normal" text-anchor="middle">C - Dodge Rate</text><text x="1008.00" y="689.35" font-size="20.8" font-weight="400" font-style="normal" text-anchor="middle">+5%</text><text x="1455.00" y="639.95" font-size="20.8" font-weight="700" font-style="italic" text-anchor="middle">Rupture Effect.</text><text x="1454.00" y="664.65" font-size="20.8" font-weight="400" font-style="normal" text-anchor="middle">During each battle round, this skill has a chance to inflict a bleeding status</text><text x="1454.00" y="689.35" font-size="20.8" font-weight="400" font-style="normal" text-anchor="middle">on all enemy squads, dealing 150% damage for 1 round. This bleeding</text><text x="1454.00" y="714.05" font-size="20.8" font-weight="400" font-style="normal" text-anchor="middle">damage increases by 25% for every 10% of the target squad's Power loss.</text><text x="1836.00" y="677.00" font-size="20.8" font-weight="400" font-style="normal" text-anchor="middle">60%</text><text x="1890.50" y="677.00" font-size="20.8" font-weight="400" font-style="normal" text-anchor="middle">30%</text><text x="88.50" y="784.65" font-size="20.8" font-weight="700" font-style="normal" text-anchor="middle">Thonalmus</text><text x="88.50" y="809.35" font-size="20.8" font-weight="700" font-style="normal" text-anchor="middle">Bicolor</text><text x="278.00" y="797.00" font-size="20.8" font-weight="400" font-style="italic" text-anchor="middle">Gen 6</text><text x="407.00" y="797.00" font-size="20.8" font-weight="400" font-style="normal" text-anchor="middle">70%</text><text x="461.50" y="797.00" font-size="20.8" font-weight="400" font-style="normal" text-anchor="middle">70%</text><text x="516.00" y="797.00" font-size="20.8" font-weight="400" font-style="normal" text-anchor="middle">45%</text><text x="570.50" y="797.00" font-size="20.8" font-weight="400" font-style="normal" text-anchor="middle">70%</text><text x="621.50" y="797.00" font-size="20.8" font-weight="400" font-style="normal" text-anchor="middle">140</text><text x="672.00" y="797.00" font-size="20.8" font-weight="400" font-style="normal" text-anchor="middle">85%</text><text x="726.50" y="797.00" font-size="20.8" font-weight="400" font-style="normal" text-anchor="middle">85%</text><text x="781.00" y="797.00" font-size="20.8" font-weight="400" font-style="normal" text-anchor="middle">40%</text><text x="835.50" y="797.00" font-size="20.8" font-weight="400" font-style="normal" text-anchor="middle">40%</text><text x="890.00" y="797.00" font-size="20.8" font-weight="400" font-style="normal" text-anchor="middle">30%</text><text x="1008.00" y="772.30" font-size="20.8" font-weight="400" font-style="normal" text-anchor="middle">C - Dodge Rate</text><text x="1008.00" y="797.00" font-size="20.8" font-weight="400" font-style="normal" text-anchor="middle">and Skill Defense</text><text x="1008.00" y="821.70" font-size="20.8" font-weight="400" font-style="normal" text-anchor="middle">+6%</text><text x="1455.00" y="747.60" font-size="20.8" font-weight="700" font-style="italic" text-anchor="middle">Slow Poison Effect.</text><text x="1454.00" y="772.30" font-size="20.8" font-weight="400" font-style="normal" text-anchor="middle">During the battle, when our back-line squad deals damage, the target is</text><text x="1454.00" y="797.00" font-size="20.8" font-weight="400" font-style="normal" text-anchor="middle">inflicted with Corrosion (Defence -50%, receives 150% damage per round)</text><text x="1454.00" y="821.70" font-size="20.8" font-weight="400" font-style="normal" text-anchor="middle">and Blindness (Damage Hit Rate -5%) for 2 rounds This effect can stack up</text><text x="1454.00" y="846.40" font-size="20.8" font-weight="400" font-style="normal" text-anchor="middle">to 3 times.</text><text x="1836.00" y="797.00" font-size="20.8" font-weight="400" font-style="normal" text-anchor="middle">60%</text><text x="1890.50" y="797.00" font-size="20.8" font-weight="400" font-style="normal" text-anchor="middle">30%</text></g></svg></body></html>
